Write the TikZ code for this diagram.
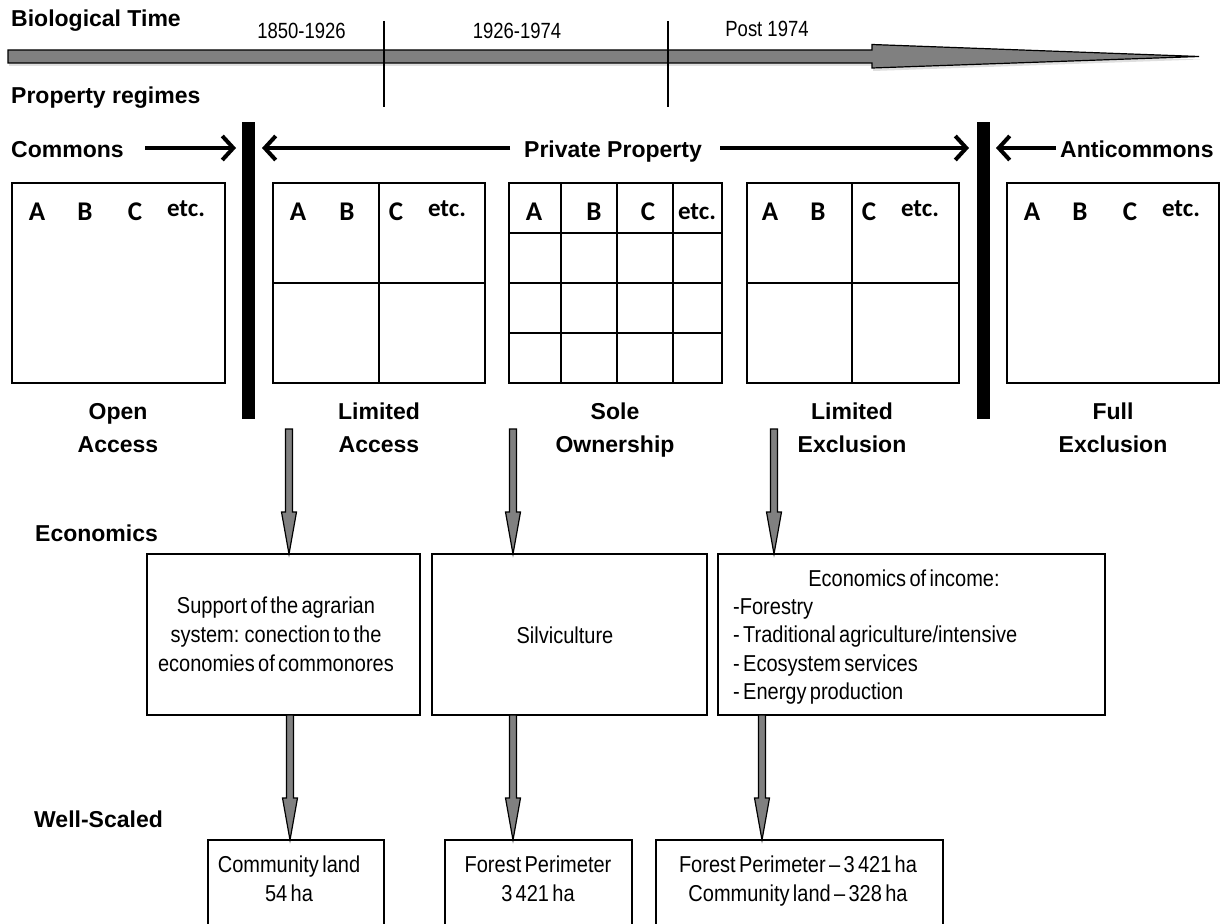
\documentclass[tikz,border=0pt]{standalone}
\usepackage{fontspec}
\setmainfont{Liberation Sans}
\newfontfamily\boxfont[FakeStretch=0.87,WordSpace=0.6]{Liberation Sans}
\newfontfamily\yearfont[FakeStretch=0.84]{Liberation Sans}
\newfontfamily\abcfont{Carlito}
\usetikzlibrary{arrows.meta,calc,shadows}
\definecolor{garr}{HTML}{808080}
\newcommand{\grayarr}[2]{%
  \path let \p1=(#1), \p2=(#2) in [garrow]
    ({\x1-3.5pt},\y1) -- ({\x1+3.5pt},\y1) -- ({\x2+3.5pt},{\y2+42pt}) --
    ({\x2+7.5pt},{\y2+42pt}) -- (\x2,\y2) -- ({\x2-7.5pt},{\y2+42pt}) --
    ({\x2-3.5pt},{\y2+42pt}) -- cycle;}
\begin{document}
\begin{tikzpicture}[x=1pt,y=-1pt,
  head/.style={font=\fontsize{23}{28}\selectfont\bfseries, inner sep=0pt, anchor=base},
  headw/.style={head, anchor=base west},
  yr/.style={font=\yearfont\fontsize{22}{26}\selectfont, inner sep=0pt, anchor=base},
  btxt/.style={font=\boxfont\fontsize{23}{27}\selectfont, inner sep=0pt, anchor=base},
  btxtw/.style={btxt, anchor=base west},
  abc/.style={font=\abcfont\bfseries\fontsize{27}{30}\selectfont, inner sep=0pt, anchor=base},
  etcs/.style={font=\abcfont\bfseries\fontsize{25}{28}\selectfont, inner sep=0pt, anchor=base},
  rbox/.style={draw, line width=2pt, inner sep=0pt, outer sep=0pt},
  gline/.style={line width=2pt},
  barrow/.style={line width=4pt, -{Straight Barb[length=11pt,width=24pt]}},
  tickline/.style={line width=2pt},
  garrow/.style={fill=garr, draw=black, line width=1.2pt, line join=miter},
  bar/.style={fill=black, inner sep=0pt, outer sep=0pt, minimum width=13pt, minimum height=297pt},
]
\useasboundingbox[fill=white] (0,0) rectangle (1222,923);

% ---------- timeline ----------
\path[garrow, drop shadow={opacity=0.25, shadow xshift=1pt, shadow yshift=-3pt}]
  (8,50) -- (872,50) -- (872,44.5) -- (1199,56.5) -- (872,68) -- (872,63) -- (8,63) -- cycle;
\coordinate (t1a) at (383.5,21); \coordinate (t1b) at (383.5,107);
\coordinate (t2a) at (668,21);   \coordinate (t2b) at (668,107);
\draw[tickline] (t1a) -- (t1b);
\draw[tickline] (t2a) -- (t2b);

\node[headw] (bt) at (11,27) {Biological Time};
\node[yr] (y1) at (301.5,39) {1850-1926};
\node[yr] (y2) at (517,39) {1926-1974};
\node[yr] (y3) at (767,37) {Post 1974};
\node[headw] (pr) at (11,104) {Property regimes};

% ---------- regimes row ----------
\node[headw] (cm) at (11,157) {Commons};
\node[head] (pp) at (613,157) {Private Property};
\node[headw] (ac) at (1060,157) {Anticommons};

\node[bar] (bar1) at (248.5,270.5) {};
\node[bar] (bar2) at (983,270.5) {};

\coordinate (ca0) at (145,148);  \coordinate (ca1) at (236,148);
\coordinate (pa0) at (510,148);  \coordinate (pa1) at (262,148);
\coordinate (pb0) at (720,148);  \coordinate (pb1) at (969,148);
\coordinate (aa0) at (1056,148); \coordinate (aa1) at (996,148);
\draw[barrow] (ca0) -- (ca1);
\draw[barrow] (pa0) -- (pa1);
\draw[barrow] (pb0) -- (pb1);
\draw[barrow] (aa0) -- (aa1);

% boxes
\node[rbox, minimum width=213pt, minimum height=200pt] (r1) at (118.5,283) {};
\node[rbox, minimum width=212pt, minimum height=200pt] (r2) at (379,283) {};
\node[rbox, minimum width=213pt, minimum height=200pt] (r3) at (615.5,283) {};
\node[rbox, minimum width=212pt, minimum height=200pt] (r4) at (853,283) {};
\node[rbox, minimum width=212pt, minimum height=200pt] (r5) at (1113,283) {};

% grid lines
\draw[gline] (379,183) -- (379,383);
\draw[gline] (273,283) -- (485,283);
\draw[gline] (561,183) -- (561,383);
\draw[gline] (617,183) -- (617,383);
\draw[gline] (673,183) -- (673,383);
\draw[gline] (509,233) -- (722,233);
\draw[gline] (509,283) -- (722,283);
\draw[gline] (509,333) -- (722,333);
\draw[gline] (852,183) -- (852,383);
\draw[gline] (747,283) -- (959,283);

% A B C etc.
\node[abc] (a1) at (37,220) {A};  \node[abc] (b1) at (85,220) {B};
\node[abc] (c1) at (135,220) {C}; \node[etcs] (e1) at (186,216) {etc.};
\node[abc] (a2) at (298,220) {A}; \node[abc] (b2) at (347,220) {B};
\node[abc] (c2) at (396,220) {C}; \node[etcs] (e2) at (447,216) {etc.};
\node[abc] (a3) at (534,220) {A}; \node[abc] (b3) at (594,220) {B};
\node[abc] (c3) at (648,220) {C}; \node[etcs] (e3) at (697,219) {etc.};
\node[abc] (a4) at (770,220) {A}; \node[abc] (b4) at (818,220) {B};
\node[abc] (c4) at (869,220) {C}; \node[etcs] (e4) at (920,216) {etc.};
\node[abc] (a5) at (1032,220) {A}; \node[abc] (b5) at (1080,220) {B};
\node[abc] (c5) at (1130,220) {C}; \node[etcs] (e5) at (1181,216) {etc.};

% regime names
\node[head] (n1a) at (118,419) {Open};     \node[head] (n1b) at (118,452) {Access};
\node[head] (n2a) at (379,419) {Limited};  \node[head] (n2b) at (379,452) {Access};
\node[head] (n3a) at (615,419) {Sole};     \node[head] (n3b) at (615,452) {Ownership};
\node[head] (n4a) at (852,419) {Limited};  \node[head] (n4b) at (852,452) {Exclusion};
\node[head] (n5a) at (1113,419) {Full};    \node[head] (n5b) at (1113,452) {Exclusion};

% ---------- economics ----------
\node[headw] (ec) at (35,541) {Economics};
\node[rbox, minimum width=273pt, minimum height=161pt] (eA) at (283.5,634.5) {};
\node[rbox, minimum width=275pt, minimum height=161pt] (eB) at (569.5,634.5) {};
\node[rbox, minimum width=387pt, minimum height=161pt] (eC) at (911.5,634.5) {};

\node[btxt] (sa1) at (276,613) {Support of the agrarian};
\node[btxt] (sa2) at (276,642) {system: conection to the};
\node[btxt] (sa3) at (276,671) {economies of commonores};
\node[btxt] (sv) at (565,643) {Silviculture};
\node[btxt] (ei0) at (904,586) {Economics of income:};
\node[btxtw] (ei1) at (733,614) {-Forestry};
\node[btxtw] (ei2) at (733,642) {- Traditional agriculture/intensive};
\node[btxtw] (ei3) at (733,671) {- Ecosystem services};
\node[btxtw] (ei4) at (733,699) {- Energy production};

\coordinate (g1) at (289,429);
\coordinate (g2) at (513,429);
\coordinate (g3) at (774,429);
\grayarr{g1}{g1 |- eA.north}
\grayarr{g2}{g2 |- eB.north}
\grayarr{g3}{g3 |- eC.north}

% ---------- well-scaled ----------
\node[headw] (ws) at (34,827) {Well-Scaled};
\node[rbox, minimum width=176pt, minimum height=160pt] (wA) at (296,920) {};
\node[rbox, minimum width=187pt, minimum height=160pt] (wB) at (538.5,920) {};
\node[rbox, minimum width=287pt, minimum height=160pt] (wC) at (799.5,920) {};

\node[btxt] (wa1) at (289,872) {Community land};
\node[btxt] (wa2) at (289,901) {54 ha};
\node[btxt] (wb1) at (538,872) {Forest Perimeter};
\node[btxt] (wb2) at (538,901) {3 421 ha};
\node[btxt] (wc1) at (798,872) {Forest Perimeter – 3 421 ha};
\node[btxt] (wc2) at (798,901) {Community land – 328 ha};

\coordinate (h1) at (290,715);
\coordinate (h2) at (513,715);
\coordinate (h3) at (762,715);
\grayarr{h1 |- eA.south}{h1 |- wA.north}
\grayarr{h2 |- eB.south}{h2 |- wB.north}
\grayarr{h3 |- eC.south}{h3 |- wC.north}
\end{tikzpicture}
\end{document}
